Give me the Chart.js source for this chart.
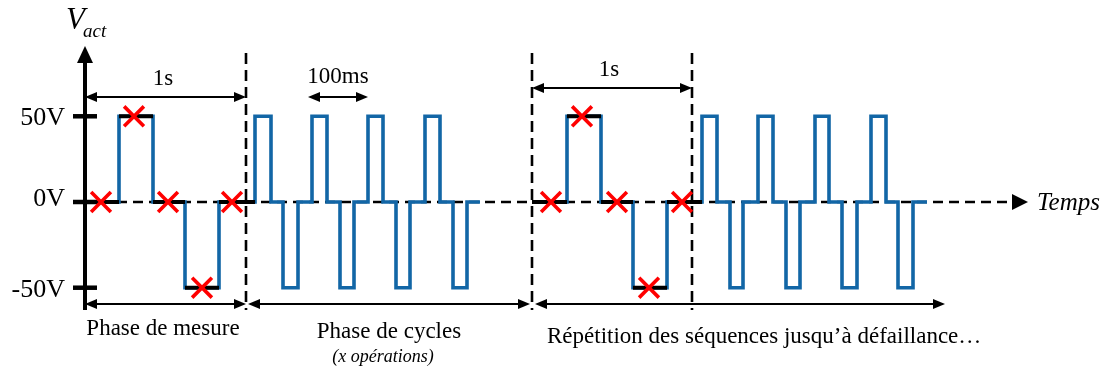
<!DOCTYPE html>
<html>
<head>
<meta charset="utf-8">
<script src="https://cdn.jsdelivr.net/npm/chart.js@4"></script>
<style>
body{margin:0;background:#fff;}
canvas{display:block;}
</style>
</head>
<body>
<canvas id="c" width="1110" height="372"></canvas>
<script>
// time in drawing units (1s of measurement = 160), voltage in V
const niveaux = [0, 50, 0, -50, 0, 50, 0, -50, 0, 50, 0, -50, 0, 50, 0, -50, 0, 50, 0, -50, 0];
const tSequence1 = [0, 34, 68, 100, 134, 170, 186, 198, 213, 227, 242, 255, 269, 283, 298, 311, 325, 340, 355, 368, 382, 395];
const tSequence2 = [447, 482, 516, 548, 582, 617, 632, 645, 658, 673, 688, 701, 715, 730, 744, 757, 772, 786, 801, 813, 828, 842];

const niveauxMesure = [0, 50, 0, -50, 0];
const tMesure1 = [0, 34, 68, 100, 134, 170];
const tMesure2 = [447, 482, 516, 548, 582, 617];

const tPoints1 = [16, 49, 83, 117, 147];
const tPoints2 = [466, 497, 532, 564, 597];

const tickValues = [50, 0, -50];
const tickLabels = ["50V", "0V", "-50V"];

const bornes = [161, 447, 607];
const phases = [[0, 161], [163, 445], [450, 860]];

function steps(t, v){
const pts = [];
for(let i=0;i<v.length;i++){
pts.push({x:t[i], y:v[i]}, {x:t[i+1], y:v[i]});
}
return pts;
}

function plateaux(t, v){
const pts = [];
for(let i=0;i<v.length;i++){
pts.push({x:t[i], y:v[i]}, {x:t[i+1], y:v[i]}, {x:t[i+1], y:null});
}
return pts;
}

const wave = steps(tSequence1, niveaux).concat([{x:420, y:null}], steps(tSequence2, niveaux));
const mesures = plateaux(tMesure1, niveauxMesure).concat(plateaux(tMesure2, niveauxMesure));
const points = tPoints1.map((t,i)=>({x:t, y:niveauxMesure[i]}))
.concat(tPoints2.map((t,i)=>({x:t, y:niveauxMesure[i]})));

function line(ctx, x1, y1, x2, y2){
ctx.beginPath();
ctx.moveTo(x1, y1);
ctx.lineTo(x2, y2);
ctx.stroke();
}

function head(ctx, xt, yt, dir, len, half){
ctx.beginPath();
if(dir==="right"){ ctx.moveTo(xt, yt); ctx.lineTo(xt-len, yt-half); ctx.lineTo(xt-len, yt+half); }
if(dir==="left"){ ctx.moveTo(xt, yt); ctx.lineTo(xt+len, yt-half); ctx.lineTo(xt+len, yt+half); }
if(dir==="up"){ ctx.moveTo(xt, yt); ctx.lineTo(xt-half, yt+len); ctx.lineTo(xt+half, yt+len); }
ctx.closePath();
ctx.fill();
}

function dblArrow(ctx, xa, xb, yy){
ctx.lineWidth = 2.2;
line(ctx, xa+6, yy, xb-6, yy);
head(ctx, xa, yy, "left", 12, 5);
head(ctx, xb, yy, "right", 12, 5);
}

const decor = {
id:"decor",
beforeDatasetsDraw(chart){
const {ctx, scales:{x, y}} = chart;
const x0 = x.getPixelForValue(0);
const yz = y.getPixelForValue(0);
ctx.save();
ctx.strokeStyle = "#000";
ctx.fillStyle = "#000";

ctx.lineWidth = 2.6;
ctx.setLineDash([11, 6]);
bornes.forEach(t=>{
const px = x.getPixelForValue(t);
line(ctx, px, 53, px, 310);
});

ctx.setLineDash([10, 6]);
line(ctx, x0, yz, 1013, yz);
ctx.setLineDash([]);
head(ctx, 1028, yz, "right", 16, 8);

ctx.lineWidth = 4;
line(ctx, x0, 310, x0, 60);
head(ctx, x0, 46, "up", 17, 8);

ctx.lineWidth = 4.5;
tickValues.forEach(v=>{
const py = y.getPixelForValue(v);
line(ctx, 73, py, 97, py);
});
ctx.restore();
},
afterDraw(chart){
const {ctx, scales:{x, y}} = chart;
const px = t=>x.getPixelForValue(t);
ctx.save();
ctx.fillStyle = "#000";
ctx.strokeStyle = "#000";

ctx.font = "26px 'Liberation Serif'";
ctx.textAlign = "right";
ctx.textBaseline = "middle";
tickValues.forEach((v,i)=>{
ctx.fillText(tickLabels[i], 65, y.getPixelForValue(v) + (v===0 ? -3 : 2));
});

ctx.textAlign = "left";
ctx.textBaseline = "alphabetic";
ctx.font = "italic 31px 'Liberation Serif'";
ctx.fillText("V", 66, 29);
ctx.font = "italic 19px 'Liberation Serif'";
ctx.fillText("act", 83, 37);

ctx.font = "italic 25px 'Liberation Serif'";
ctx.fillText("Temps", 1037, 210);

dblArrow(ctx, px(0), px(161), 97);
dblArrow(ctx, px(223), px(283), 97);
dblArrow(ctx, px(447), px(607), 88);

ctx.font = "23px 'Liberation Serif'";
ctx.textAlign = "center";
ctx.fillText("1s", px(78), 85);
ctx.fillText("100ms", px(253), 83);
ctx.fillText("1s", px(524), 76);

phases.forEach(p=>dblArrow(ctx, px(p[0]), px(p[1]), 304));

ctx.fillText("Phase de mesure", px(78), 335);
ctx.fillText("Phase de cycles", px(304), 338);
ctx.font = "italic 18px 'Liberation Serif'";
ctx.fillText("(x opérations)", px(298), 362);
ctx.font = "23px 'Liberation Serif'";
ctx.textAlign = "left";
ctx.fillText("Répétition des séquences jusqu’à défaillance…", px(462), 343);
ctx.restore();
}
};

new Chart(document.getElementById("c").getContext("2d"),{
type:"line",
data:{
datasets:[
{
label:"Points de mesure",
data:points,
showLine:false,
pointStyle:"crossRot",
pointRadius:14,
pointBorderWidth:3.6,
pointBorderColor:"#ff0000",
borderColor:"#ff0000",
order:0
},
{
label:"Plateaux",
data:mesures,
borderColor:"#000",
borderWidth:4,
pointRadius:0,
spanGaps:false,
order:1
},
{
label:"Vact",
data:wave,
borderColor:"#1266a6",
borderWidth:3.6,
pointRadius:0,
spanGaps:false,
order:2
}
]
},
options:{
responsive:false,
animation:false,
devicePixelRatio:1,
layout:{padding:{left:85, right:100, top:82, bottom:50}},
scales:{
x:{type:"linear", min:0, max:925, display:false},
y:{min:-70, max:70, display:false}
},
plugins:{
legend:{display:false},
tooltip:{enabled:false}
}
},
plugins:[decor]
});
</script>
</body>
</html>
